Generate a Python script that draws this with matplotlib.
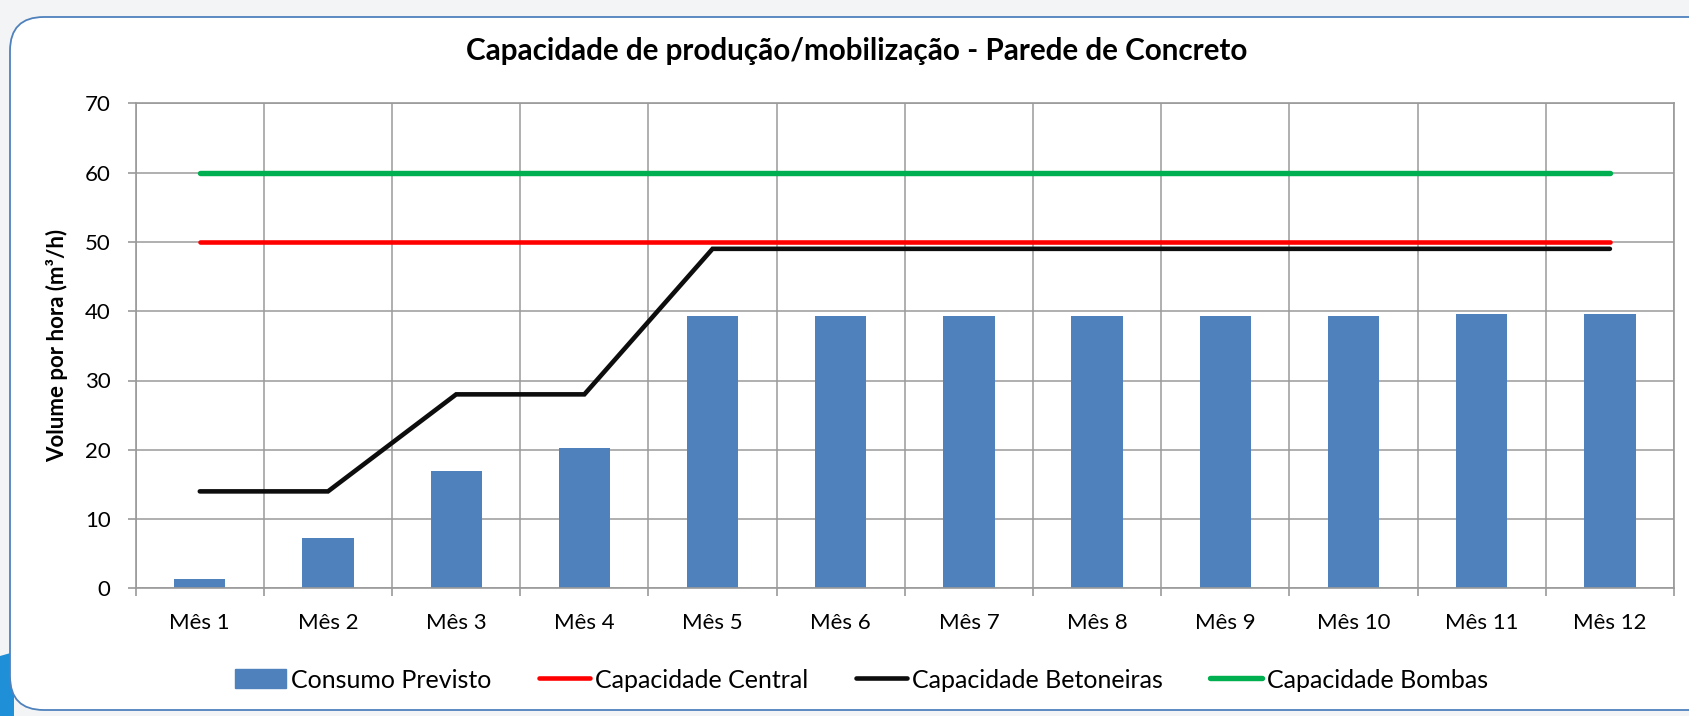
import matplotlib
matplotlib.use("Agg")
from matplotlib import pyplot as plt
from matplotlib.patches import FancyBboxPatch, Rectangle, Polygon
from matplotlib.lines import Line2D
import numpy as np

plt.rcParams['font.family'] = ['Lato', 'DejaVu Sans']

meses = ['Mês 1', 'Mês 2', 'Mês 3', 'Mês 4', 'Mês 5', 'Mês 6',
         'Mês 7', 'Mês 8', 'Mês 9', 'Mês 10', 'Mês 11', 'Mês 12']
consumo_previsto = [1.4, 7.3, 16.9, 20.3, 39.3, 39.3, 39.3, 39.3, 39.3, 39.3, 39.6, 39.6]
capacidade_central = [50] * 12
capacidade_betoneiras = [14, 14, 28, 28, 49, 49, 49, 49, 49, 49, 49, 49]
capacidade_bombas = [60] * 12

W, H = 1690, 716
fig = plt.figure(figsize=(W / 100, H / 100), dpi=100)
fig.patch.set_facecolor('#f3f4f5')

# bit of blue slide decoration peeking out bottom-left
deco = Polygon([(0, 0), (14 / W, 0), (14 / W, 64 / H), (0, 60 / H)], closed=True,
               transform=fig.transFigure, facecolor='#1f8fd8', edgecolor='none', zorder=-6)
fig.patches.append(deco)

# rounded chart frame
frame = FancyBboxPatch((10 / W, 6 / H), (W + 40) / W, (H - 17 - 6) / H,
                       boxstyle="round,pad=0,rounding_size=0.02",
                       transform=fig.transFigure, facecolor='white',
                       edgecolor='#4f81bd', linewidth=1.3, zorder=-5,
                       mutation_aspect=W / H)
fig.patches.append(frame)

ax = fig.add_axes([135.7 / W, 1 - 588.4 / H, (1674 - 135.7) / W, (588.4 - 103.3) / H])
ax.set_zorder(2)
ax.set_facecolor('white')

x = np.arange(len(meses))
ax.bar(x, consumo_previsto, width=0.4, color='#4f81bd', zorder=2)
ax.plot(x, capacidade_central, color='#ff0000', lw=3.3, solid_capstyle='round', zorder=3)
ax.plot(x, capacidade_betoneiras, color='#0d0d0d', lw=3.3, solid_capstyle='round',
        solid_joinstyle='miter', zorder=3)
ax.plot(x, capacidade_bombas, color='#00b050', lw=3.9, solid_capstyle='round', zorder=3)

ax.set_xlim(-0.5, len(meses) - 0.5)
ax.set_ylim(0, 70)
ax.set_yticks(range(0, 71, 10))
ax.set_xticks(x)
ax.set_xticklabels(meses)
ax.set_xticks(np.arange(-0.5, len(meses), 1), minor=True)
ax.tick_params(axis='x', which='major', length=0, pad=18, labelsize=16)
ax.tick_params(axis='x', which='minor', length=6, color='#9a9a9a', width=1.2)
ax.tick_params(axis='y', length=6, color='#9a9a9a', width=1.2, pad=12, labelsize=16)
ax.grid(True, which='minor', axis='x', color='#9a9a9a', lw=1.1, zorder=1)
ax.grid(True, which='major', axis='y', color='#9a9a9a', lw=1.1, zorder=1)
ax.set_axisbelow(True)
for s in ax.spines.values():
    s.set_color('#9a9a9a')
    s.set_linewidth(1.2)

ax.set_ylabel('Volume por hora (m³/h)', fontsize=16, fontweight='bold')
ax.yaxis.set_label_coords(-0.044, 0.5)
fig.text(0.5067, 1 - 51 / H, 'Capacidade de produção/mobilização - Parede de Concreto',
         ha='center', va='center', fontsize=21.3, fontweight='bold')

handles = [Rectangle((0, 0), 1, 1, color='#4f81bd'),
           Line2D([], [], color='#ff0000', lw=3.3, solid_capstyle='round'),
           Line2D([], [], color='#0d0d0d', lw=3.3, solid_capstyle='round'),
           Line2D([], [], color='#00b050', lw=3.9, solid_capstyle='round')]
labels = ['Consumo Previsto', 'Capacidade Central', 'Capacidade Betoneiras', 'Capacidade Bombas']
fig.legend(handles, labels, loc='center', bbox_to_anchor=(0.5096, 1 - 680 / H), ncol=4,
           frameon=False, fontsize=18, handlelength=2.05, handleheight=0.8,
           handletextpad=0.2, columnspacing=1.9)

fig.savefig('out.png', dpi=100, facecolor=fig.get_facecolor())
